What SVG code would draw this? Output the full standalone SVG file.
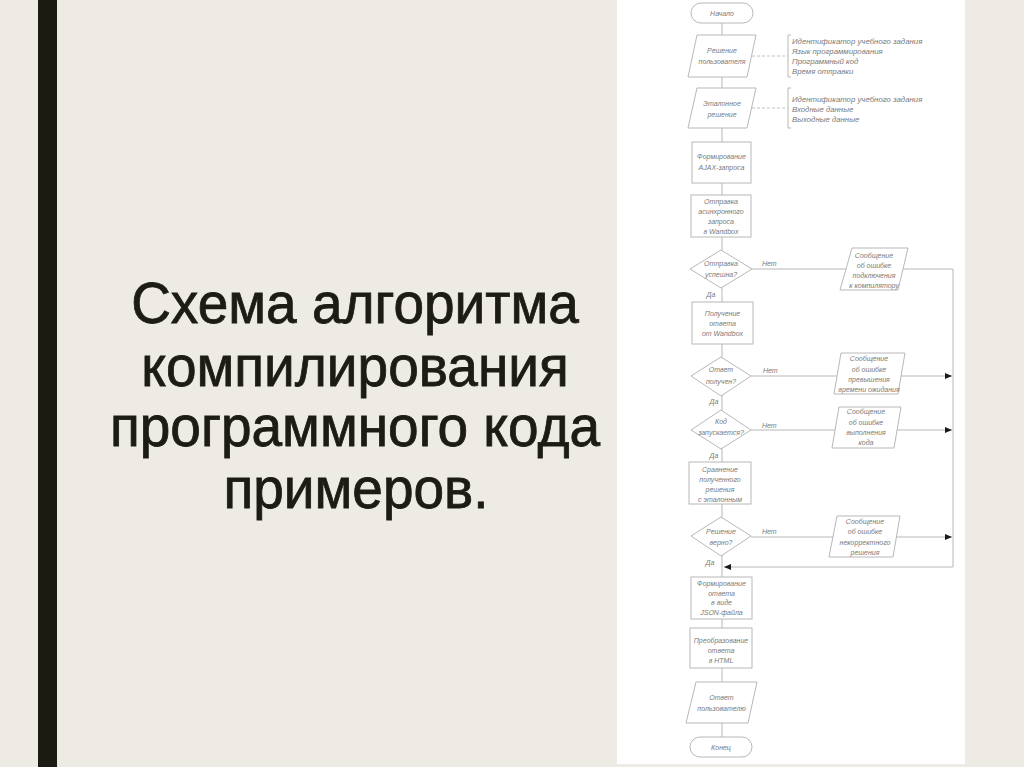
<svg xmlns="http://www.w3.org/2000/svg" width="1024" height="767" viewBox="0 0 1024 767">
<defs>
<style>
.title{font-family:"Liberation Sans","DejaVu Sans",sans-serif;font-size:55px;fill:#1c1c14;stroke:#1c1c14;stroke-width:0.8px;text-anchor:middle}
.sh{fill:#fff;stroke:#b8b8b8;stroke-width:1}
.cn{fill:none;stroke:#b8b8b8;stroke-width:1}
.dash{fill:none;stroke:#c0c0c0;stroke-width:1;stroke-dasharray:3 2}
.t{font-family:"Liberation Sans","DejaVu Sans",sans-serif;font-style:italic;font-size:7px;fill:#7a7a7a;text-anchor:middle}
.a{font-family:"Liberation Sans","DejaVu Sans",sans-serif;font-style:italic;font-size:7.8px;fill:#7a7a7a}
.lb{font-family:"Liberation Sans","DejaVu Sans",sans-serif;font-style:italic;font-size:7px;fill:#7a7a7a}
</style>
<marker id="arr" viewBox="0 0 7 6" refX="7" refY="3" markerWidth="7" markerHeight="6" markerUnits="userSpaceOnUse" orient="auto">
<path d="M0,0 L7,3 L0,6 z" fill="#1a1a1a"/>
</marker>
</defs>
<rect x="0" y="0" width="1024" height="767" fill="#eeebe4"/>
<rect x="38" y="0" width="19" height="767" fill="#1b1b12"/>
<g id="title">
<text class="title" transform="translate(355,323) scale(1,1.06)">Схема алгоритма</text>
<text class="title" transform="translate(355,386) scale(1,1.06)">компилирования</text>
<text class="title" transform="translate(355,446) scale(1,1.06)">программного кода</text>
<text class="title" transform="translate(356,508) scale(1,1.06)">примеров.</text>
</g>
<rect x="617" y="0" width="348" height="764" fill="#ffffff"/>
<g id="connectors">
<path class="cn" d="M722 23 V737"/>
<path class="dash" d="M752 56 H788"/>
<path class="cn" d="M791 35 H788 V77 H791"/>
<path class="dash" d="M752 108 H788"/>
<path class="cn" d="M791 88 H788 V128 H791"/>
<path class="cn" d="M752 269 H953 V567 H724" marker-end="url(#arr)"/>
<path class="cn" d="M751 376 H952" marker-end="url(#arr)"/>
<path class="cn" d="M751 430 H952" marker-end="url(#arr)"/>
<path class="cn" d="M751 537 H952" marker-end="url(#arr)"/>
<text class="lb" x="762" y="266">Нет</text>
<text class="lb" x="763" y="373">Нет</text>
<text class="lb" x="762" y="428">Нет</text>
<text class="lb" x="762" y="534">Нет</text>
<text class="t" x="711" y="297">Да</text>
<text class="t" x="714" y="404">Да</text>
<text class="t" x="714" y="458">Да</text>
<text class="t" x="710" y="565">Да</text>
</g>
<g id="n1"><rect class="sh" x="691" y="3" width="62" height="20" rx="10"/><text class="t" x="722" y="15.5">Начало</text></g>
<g id="n2"><polygon class="sh" points="697,35 756,35 747,77 688,77"/><text class="t" x="722" y="53">Решение</text><text class="t" x="722" y="64">пользователя</text></g>
<g id="ann1"><text class="a" x="792" y="43.5">Идентификатор учебного задания</text><text class="a" x="792" y="53.5">Язык программирования</text><text class="a" x="792" y="63.5">Программный код</text><text class="a" x="792" y="73.5">Время отправки</text></g>
<g id="n3"><polygon class="sh" points="697,88 756,88 747,128 688,128"/><text class="t" x="722" y="105.5">Эталонное</text><text class="t" x="722" y="116.5">решение</text></g>
<g id="ann2"><text class="a" x="792" y="101.5">Идентификатор учебного задания</text><text class="a" x="792" y="111.5">Входные данные</text><text class="a" x="792" y="121.5">Выходные данные</text></g>
<g id="n4"><rect class="sh" x="692" y="142" width="59" height="41"/><text class="t" x="721.5" y="158.5">Формирование</text><text class="t" x="721.5" y="169.5">AJAX-запроса</text></g>
<g id="n5"><rect class="sh" x="691" y="195" width="60" height="42"/><text class="t" x="721" y="203.5">Отправка</text><text class="t" x="721" y="213.5">асинхронного</text><text class="t" x="721" y="223.5">запроса</text><text class="t" x="721" y="233.5">в Wandbox</text></g>
<g id="n6"><polygon class="sh" points="721,250 752,269 721,288 690,269"/><text class="t" x="721" y="266">Отправка</text><text class="t" x="721" y="277">успешна?</text></g>
<g id="m1"><polygon class="sh" points="852,248 908,248 898,290 840,290"/><text class="t" x="874" y="257.5">Сообщение</text><text class="t" x="874" y="267.5">об ошибке</text><text class="t" x="874" y="278">подключения</text><text class="t" x="874" y="288">к компилятору</text></g>
<g id="n7"><rect class="sh" x="692" y="302" width="61" height="42"/><text class="t" x="722.5" y="315.5">Получение</text><text class="t" x="722.5" y="325.5">ответа</text><text class="t" x="722.5" y="335.5">от Wandbox</text></g>
<g id="n8"><polygon class="sh" points="721,357 751,376 721,396 691,376"/><text class="t" x="721" y="372">Ответ</text><text class="t" x="721" y="384">получен?</text></g>
<g id="m2"><polygon class="sh" points="841,353 905,353 898,394 834,394"/><text class="t" x="869" y="360.5">Сообщение</text><text class="t" x="869" y="371.5">об ошибке</text><text class="t" x="869" y="381.5">превышения</text><text class="t" x="869" y="391.5">времени ожидания</text></g>
<g id="n9"><polygon class="sh" points="721,410 751,430 721,449 691,430"/><text class="t" x="721" y="423.5">Код</text><text class="t" x="721" y="434.5">запускается?</text></g>
<g id="m3"><polygon class="sh" points="839,407 901,407 894,448 832,448"/><text class="t" x="866" y="413.5">Сообщение</text><text class="t" x="866" y="424.5">об ошибке</text><text class="t" x="866" y="434.5">выполнения</text><text class="t" x="866" y="444.5">кода</text></g>
<g id="n10"><rect class="sh" x="689" y="462" width="62" height="42"/><text class="t" x="720" y="471.5">Сравнение</text><text class="t" x="720" y="481.5">полученного</text><text class="t" x="720" y="491.5">решения</text><text class="t" x="720" y="501.5">с эталонным</text></g>
<g id="n11"><polygon class="sh" points="721,517 751,536 721,556 691,536"/><text class="t" x="721" y="533.5">Решение</text><text class="t" x="721" y="544.5">верно?</text></g>
<g id="m4"><polygon class="sh" points="837,516 900,516 893,557 829,557"/><text class="t" x="865" y="523.5">Сообщение</text><text class="t" x="865" y="533.5">об ошибке</text><text class="t" x="865" y="544.5">некорректного</text><text class="t" x="865" y="554.5">решения</text></g>
<g id="n12"><rect class="sh" x="691" y="577" width="61" height="42"/><text class="t" x="721.5" y="586">Формирование</text><text class="t" x="721.5" y="595.5">ответа</text><text class="t" x="721.5" y="605">в виде</text><text class="t" x="721.5" y="614.5">JSON-файла</text></g>
<g id="n13"><rect class="sh" x="690" y="628" width="62" height="40"/><text class="t" x="721" y="642.5">Преобразование</text><text class="t" x="721" y="652.5">ответа</text><text class="t" x="721" y="662.5">в HTML</text></g>
<g id="n14"><polygon class="sh" points="696,682 757,682 748,723 686,723"/><text class="t" x="721.5" y="699.5">Ответ</text><text class="t" x="721.5" y="710.5">пользователю</text></g>
<g id="n15"><rect class="sh" x="690" y="737" width="62" height="20" rx="10"/><text class="t" x="721" y="749.5">Конец</text></g>
</svg>
